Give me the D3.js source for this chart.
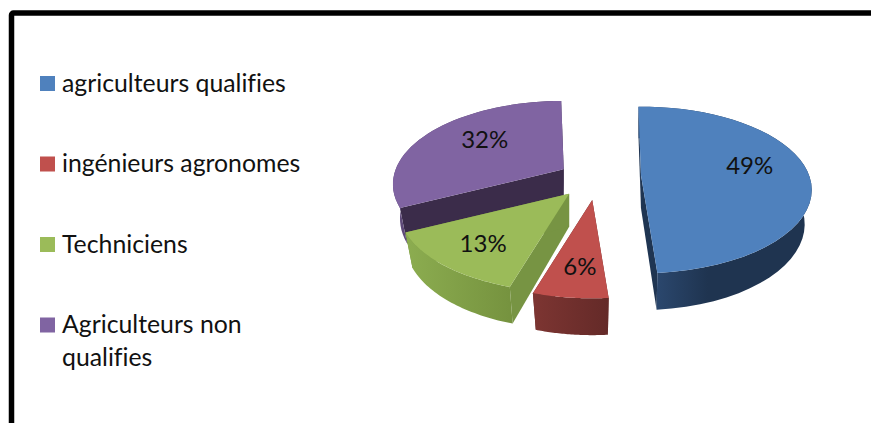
<!DOCTYPE html>
<html><head><meta charset="utf-8">
<script src="https://cdnjs.cloudflare.com/ajax/libs/d3/7.8.5/d3.min.js"></script>
<style>html,body{margin:0;padding:0;background:#fff;overflow:hidden}svg{display:block}text{font-family:Lato,"Noto Sans",sans-serif;fill:#111;font-variant-ligatures:none;font-feature-settings:"liga" 0}</style>
</head><body><svg id="c" width="871" height="423"></svg>
<script>
const categories = ["agriculteurs qualifies","ingénieurs agronomes","Techniciens","Agriculteurs non qualifies"];
const values = [49,6,13,32];
const legendLines = [["agriculteurs qualifies"],["ingénieurs agronomes"],["Techniciens"],["Agriculteurs non","qualifies"]];
const topColors = ["#4f81bd","#c0504d","#9bbb59","#8064a2"];
const edgeColors = ["#1f3552","#652b29","#779443","#3b2c4a"];
const rimLeft = ["#2f4e78","#7d3532","#8cad50","#5f4a7a"];
const rimRight = ["#1f3450","#642a28","#76933f","#4a3a60"];
const explode = [44,44,43,39];
const lift = [-3,0,-1,0];
const labelRadius = [.64,.78,.75,.55];
const labelDx = [2,4,5,-4];
const labelDy = [0,0,5,-1];
const drawOrder = [3,0,2,1];

const svg = d3.select("#c");
const cx=597, cy=179, R=168, tilt=.48, depth=933, H=33, bottomShrink=.96, fs=24.8, labelFs=24;
const rad = d=>d*Math.PI/180;
const start = rad(-1);
const arcs = d3.pie().sort(null).startAngle(start).endAngle(start+2*Math.PI)(values);

// perspective of a point of the disk relative to the slice's own apex
function local(ox,oy,px,pz,drop){
  const s = 1/(1+pz/depth);
  return [ox+px*s, oy-pz*tilt*s+(drop||0)*s];
}
const line = d3.line();
const defs = svg.append("defs");

svg.append("rect").attr("x",11.5).attr("y",13).attr("width",950).attr("height",520).attr("rx",2)
  .attr("fill","#fff").attr("stroke","#000").attr("stroke-width",5.5);

const apexOf = i=>{
  const a=arcs[i], mid=(a.startAngle+a.endAngle)/2;
  return {mid, x:cx+explode[i]*Math.sin(mid), y:cy-explode[i]*Math.cos(mid)*tilt+lift[i]};
};

drawOrder.forEach(i=>{
  const a=arcs[i], ap=apexOf(i);
  const pt=(th,r,drop)=>local(ap.x,ap.y,r*Math.sin(th),r*Math.cos(th),drop);
  const samples=d3.range(0,41).map(k=>a.startAngle+(a.endAngle-a.startAngle)*k/40);
  const topArc=samples.map(t=>pt(t,R,0));
  const botArc=samples.map(t=>pt(t,R*bottomShrink,H/bottomShrink));
  const apexT=pt(0,0,0), apexB=pt(0,0,H);
  const g=svg.append("g");
  [a.startAngle,a.endAngle].forEach(t=>{
    g.append("path").attr("d",line([apexT,pt(t,R,0),pt(t,R*bottomShrink,H/bottomShrink),apexB])+"Z").attr("fill",edgeColors[i]);
  });
  const gid="rim"+i, xs=topArc.map(p=>p[0]);
  const gr=defs.append("linearGradient").attr("id",gid).attr("gradientUnits","userSpaceOnUse")
    .attr("x1",d3.min(xs)).attr("x2",d3.max(xs)).attr("y1",0).attr("y2",0);
  gr.append("stop").attr("offset",0).attr("stop-color",rimLeft[i]);
  gr.append("stop").attr("offset",i==0?.4:1).attr("stop-color",rimRight[i]);
  g.append("path").attr("d",line(topArc.concat(botArc.slice().reverse()))+"Z").attr("fill",`url(#${gid})`);
  g.append("path").attr("d",line([apexT].concat(topArc))+"Z").attr("fill",topColors[i]);
});

arcs.forEach((a,i)=>{
  const ap=apexOf(i), r=R*labelRadius[i];
  const p=local(ap.x,ap.y,r*Math.sin(ap.mid),r*Math.cos(ap.mid),0);
  svg.append("text").attr("x",p[0]+labelDx[i]).attr("y",p[1]+2+labelDy[i]).attr("text-anchor","middle")
    .attr("font-size",labelFs).text(values[i]+"%");
});

const yLegend=d3.scalePoint().domain(categories).range([91.5,333]);
categories.forEach((c,i)=>{
  const y=yLegend(c);
  svg.append("rect").attr("x",40).attr("y",y-15.5).attr("width",15).attr("height",15).attr("fill",topColors[i]);
  legendLines[i].forEach((t,k)=>svg.append("text").attr("x",62).attr("y",y+k*33).attr("font-size",fs).text(t));
});
</script></body></html>
